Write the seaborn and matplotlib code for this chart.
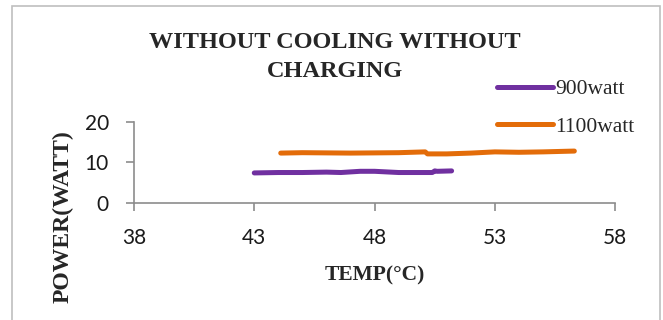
import matplotlib
matplotlib.use("Agg")
import matplotlib.pyplot as plt
import seaborn as sns
import pandas as pd
from matplotlib.patches import Rectangle

# Measured power vs. temperature for two heater ratings
temp_900 = [43.0, 44.0, 45.0, 46.0, 46.6, 47.4, 48.0, 49.0, 50.0, 50.4, 50.5, 50.6, 51.2]
power_900 = [7.4, 7.5, 7.5, 7.6, 7.5, 7.8, 7.8, 7.5, 7.5, 7.5, 7.9, 7.8, 7.9]
temp_1100 = [44.1, 45.0, 47.0, 49.0, 50.1, 50.2, 51.0, 52.0, 53.0, 54.0, 55.0, 56.3]
power_1100 = [12.3, 12.4, 12.3, 12.4, 12.6, 12.1, 12.1, 12.3, 12.6, 12.5, 12.6, 12.8]
series_names = ["900watt", "1100watt"]
series_colors = ["#7030A0", "#E36C09"]
x_ticks = [38, 43, 48, 53, 58]
y_ticks = [0, 10, 20]

df = pd.concat([
    pd.DataFrame({"temp": temp_900, "power": power_900, "series": series_names[0]}),
    pd.DataFrame({"temp": temp_1100, "power": power_1100, "series": series_names[1]}),
], ignore_index=True)

sns.set_theme(style="white")
plt.rcParams["font.family"] = ["Lato", "DejaVu Sans"]

fig = plt.figure(figsize=(6.63, 3.2), dpi=100)
ax = fig.add_axes([0.202, 0.366, 0.726, 0.253])

sns.lineplot(data=df, x="temp", y="power", hue="series", hue_order=series_names,
             palette=series_colors, sort=False, linewidth=3.6, ax=ax,
             solid_capstyle="round", estimator=None)

ax.set_xlim(38, 58)
ax.set_ylim(0, 20)
ax.set_xticks(x_ticks)
ax.set_yticks(y_ticks)
ax.tick_params(axis="both", which="major", direction="out", length=6, width=1.2,
               color="#8C8C8C", labelsize=15, bottom=True, left=True,
               labelcolor="#1A1A1A")
ax.tick_params(axis="x", pad=12)
ax.tick_params(axis="y", pad=12)
for side in ("top", "right"):
    ax.spines[side].set_visible(False)
for side in ("left", "bottom"):
    ax.spines[side].set_color("#8C8C8C")
    ax.spines[side].set_linewidth(1.2)

ax.set_xlabel("TEMP(°C)", family="Liberation Serif", fontweight="bold", fontsize=15.5)
ax.xaxis.set_label_coords(0.5, -0.9)
ax.xaxis.label.set_va("center")
ax.set_ylabel("POWER(WATT)", family="Liberation Serif", fontweight="bold", fontsize=17)
ax.yaxis.set_label_coords(-0.148, -0.17)
ax.yaxis.label.set_va("center")

fig.text(0.505, 0.822, "WITHOUT COOLING WITHOUT\nCHARGING", ha="center", va="center",
         family="Liberation Serif", fontweight="bold", fontsize=17.5, linespacing=1.5)

leg = ax.legend(loc="upper left", frameon=False,
                prop={"family": "Liberation Serif", "size": 15.5}, handlelength=2.6,
                handletextpad=0.1, labelspacing=0.8, borderaxespad=0, borderpad=0)
leg.set_bbox_to_anchor((0.75, 0.752), transform=fig.transFigure)
for line in leg.get_lines():
    line.set_linewidth(3.6)
    line.set_solid_capstyle("round")

fig.patches.append(Rectangle((0.018, -0.1), 0.978, 1.08, transform=fig.transFigure,
                             fill=False, edgecolor="#BFBFBF", linewidth=1.2))

fig.savefig("out.png", dpi=100)
